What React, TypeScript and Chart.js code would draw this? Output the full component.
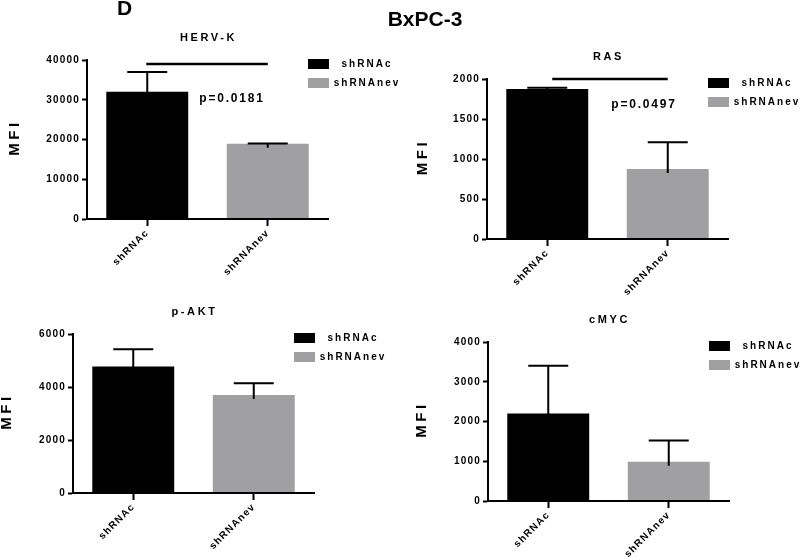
import React, { useEffect, useRef } from 'react';
import { Chart, registerables } from 'chart.js';

Chart.register(...registerables);

// ---------- data ----------
const categories = ['shRNAc', 'shRNAnev'];
const legendLabels = ['shRNAc', 'shRNAnev'];
const barColors = ['#000000', '#a0a0a3'];

const hervkMeans = [32000, 18900];
const hervkErrors = [5000, 100];
const hervkTicks = [0, 10000, 20000, 30000, 40000];

const rasMeans = [1875, 875];
const rasErrors = [15, 335];
const rasTicks = [0, 500, 1000, 1500, 2000];

const paktMeans = [4770, 3700];
const paktErrors = [650, 440];
const paktTicks = [0, 2000, 4000, 6000];

const cmycMeans = [2200, 990];
const cmycErrors = [1200, 530];
const cmycTicks = [0, 1000, 2000, 3000, 4000];

const figureLetter = 'D';
const figureTitle = 'BxPC-3';
const yAxisTitle = 'MFI';

// ---------- layout ----------
const W = 800;
const H = 557;
const Y_W = 60;
const X_H = 60;
const FONT = '"Liberation Sans", Arial, Helvetica, sans-serif';

type Sig = { value: number; text: string; textValue: number; textDx: number; fromDx: number };
type PanelCfg = {
  title: string;
  means: number[];
  errors: number[];
  ticks: number[];
  area: { left: number; right: number; top: number; bottom: number };
  mfiOffset: number;
  sig?: Sig;
  header?: boolean;
};

const panels: PanelCfg[] = [
  {
    title: 'HERV-K',
    means: hervkMeans,
    errors: hervkErrors,
    ticks: hervkTicks,
    area: { left: 87, right: 328, top: 60, bottom: 219 },
    mfiOffset: 72,
    sig: { value: 39000, text: 'p=0.0181', textValue: 30300, textDx: 145, fromDx: -1 },
    header: true,
  },
  {
    title: 'RAS',
    means: rasMeans,
    errors: rasErrors,
    ticks: rasTicks,
    area: { left: 487, right: 728, top: 79, bottom: 239 },
    mfiOffset: 64,
    sig: { value: 2000, text: 'p=0.0497', textValue: 1685, textDx: 157, fromDx: 5 },
  },
  {
    title: 'p-AKT',
    means: paktMeans,
    errors: paktErrors,
    ticks: paktTicks,
    area: { left: 73, right: 314, top: 334, bottom: 493 },
    mfiOffset: 66,
  },
  {
    title: 'cMYC',
    means: cmycMeans,
    errors: cmycErrors,
    ticks: cmycTicks,
    area: { left: 488, right: 729, top: 342, bottom: 501 },
    mfiOffset: 66,
  },
];

function makePlugin(cfg: PanelCfg) {
  return {
    id: 'panelDecor',
    beforeDraw(chart: any) {
      chart.ctx.letterSpacing = '1.2px';
    },
    afterDatasetsDraw(chart: any) {
      const ctx = chart.ctx as CanvasRenderingContext2D;
      const y = chart.scales.y;
      const meta = chart.getDatasetMeta(0);
      ctx.save();
      ctx.strokeStyle = '#000';
      ctx.lineWidth = 2;
      meta.data.forEach((bar: any, i: number) => {
        const x = bar.x;
        const yTop = y.getPixelForValue(cfg.means[i] + cfg.errors[i]);
        const yMean = y.getPixelForValue(cfg.means[i]);
        ctx.beginPath();
        ctx.moveTo(x, yMean + 4);
        ctx.lineTo(x, yTop);
        ctx.moveTo(x - 20, yTop);
        ctx.lineTo(x + 20, yTop);
        ctx.stroke();
      });
      ctx.restore();
    },
    afterDraw(chart: any) {
      const ctx = chart.ctx as CanvasRenderingContext2D;
      const area = chart.chartArea;
      const y = chart.scales.y;
      const x = chart.scales.x;
      ctx.save();
      ctx.fillStyle = '#000';

      // panel title
      ctx.font = `bold 11px ${FONT}`;
      (ctx as any).letterSpacing = '2.6px';
      ctx.textAlign = 'center';
      ctx.textBaseline = 'middle';
      ctx.fillText(cfg.title, (area.left + area.right) / 2 + 1, area.top - 22);

      // y axis title (rotated)
      ctx.save();
      ctx.translate(area.left - cfg.mfiOffset, (area.top + area.bottom) / 2);
      ctx.rotate(-Math.PI / 2);
      ctx.font = `bold 15px ${FONT}`;
      (ctx as any).letterSpacing = '3.5px';
      ctx.textAlign = 'center';
      ctx.textBaseline = 'middle';
      ctx.fillText(yAxisTitle, 2, 0);
      ctx.restore();

      // legend
      const boxL = area.right - 20;
      ctx.font = `bold 10px ${FONT}`;
      (ctx as any).letterSpacing = '2px';
      ctx.textAlign = 'center';
      ctx.textBaseline = 'middle';
      legendLabels.forEach((lab, i) => {
        const top = area.top - 1 + i * 19;
        ctx.fillStyle = barColors[i];
        ctx.fillRect(boxL, top, 21, 10);
        ctx.fillStyle = '#000';
        ctx.fillText(lab, area.right + 39, top + 5.5);
      });

      // significance
      if (cfg.sig) {
        const x1 = x.getPixelForValue(0) + cfg.sig.fromDx;
        const x2 = x.getPixelForValue(1);
        const ys = y.getPixelForValue(cfg.sig.value);
        ctx.strokeStyle = '#000';
        ctx.lineWidth = 2.5;
        ctx.beginPath();
        ctx.moveTo(x1, ys);
        ctx.lineTo(x2, ys);
        ctx.stroke();
        ctx.font = `bold 12px ${FONT}`;
        (ctx as any).letterSpacing = '1.8px';
        ctx.textAlign = 'center';
        ctx.textBaseline = 'middle';
        ctx.fillText(cfg.sig.text, area.left + cfg.sig.textDx, y.getPixelForValue(cfg.sig.textValue));
      }

      // figure header
      if (cfg.header) {
        (ctx as any).letterSpacing = '0px';
        ctx.textBaseline = 'alphabetic';
        ctx.font = `bold 21px ${FONT}`;
        ctx.textAlign = 'left';
        ctx.fillText(figureLetter, 117, 15);
        ctx.textAlign = 'center';
        ctx.fillText(figureTitle, 425, 26);
      }
      ctx.restore();
    },
  };
}

function Panel({ cfg }: { cfg: PanelCfg }) {
  const ref = useRef<HTMLCanvasElement>(null);
  useEffect(() => {
    const a = cfg.area;
    const chart = new Chart(ref.current as HTMLCanvasElement, {
      type: 'bar',
      data: {
        labels: categories,
        datasets: [
          {
            data: cfg.means,
            backgroundColor: barColors,
            borderWidth: 0,
            barPercentage: 0.68,
            categoryPercentage: 1,
          },
        ],
      },
      options: {
        responsive: false,
        animation: false,
        events: [],
        layout: {
          padding: {
            left: a.left - Y_W,
            top: a.top,
            right: W - a.right,
            bottom: H - a.bottom - X_H,
          },
        },
        plugins: {
          legend: { display: false },
          tooltip: { enabled: false },
          title: { display: false },
        },
        scales: {
          x: {
            type: 'category',
            offset: true,
            grid: {
              display: true,
              drawOnChartArea: false,
              drawTicks: true,
              tickLength: 7,
              tickWidth: 2,
              tickColor: '#000',
              offset: false,
              z: 1,
            },
            border: { display: true, color: '#000', width: 2, z: 1 },
            ticks: {
              minRotation: 45,
              maxRotation: 45,
              autoSkip: false,
              color: '#000',
              padding: 1,
              font: { family: FONT, size: 10, weight: 'bold' },
            },
            afterFit: (s: any) => {
              s.height = X_H;
            },
          },
          y: {
            min: 0,
            max: cfg.ticks[cfg.ticks.length - 1],
            grid: {
              display: true,
              drawOnChartArea: false,
              drawTicks: true,
              tickLength: 5,
              tickWidth: 2,
              tickColor: '#000',
              z: 1,
            },
            border: { display: true, color: '#000', width: 2, z: 1 },
            ticks: {
              stepSize: cfg.ticks[1] - cfg.ticks[0],
              color: '#000',
              padding: 2,
              font: { family: FONT, size: 10, weight: 'bold' },
              callback: (v: any) => String(v),
            },
            afterFit: (s: any) => {
              s.width = Y_W;
            },
          },
        },
      } as any,
      plugins: [makePlugin(cfg)],
    });
    return () => chart.destroy();
  }, [cfg]);
  return (
    <canvas
      ref={ref}
      width={W}
      height={H}
      style={{ position: 'absolute', left: 0, top: 0, width: W, height: H }}
    />
  );
}

export default function App() {
  return (
    <div style={{ position: 'fixed', left: 0, top: 0, width: W, height: H, background: '#fff', overflow: 'hidden' }}>
      {panels.map((p) => (
        <Panel key={p.title} cfg={p} />
      ))}
    </div>
  );
}
